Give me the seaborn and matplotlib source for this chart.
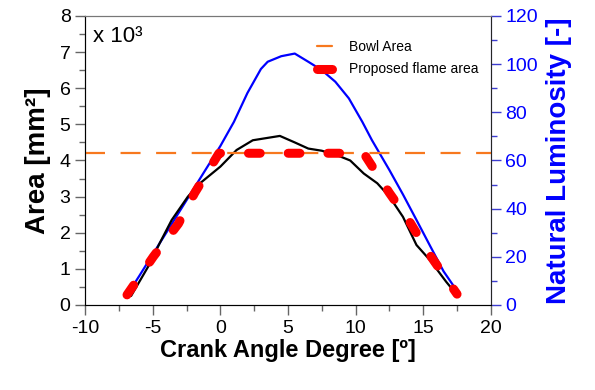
'''
    plot.py
    Area and natural luminosity vs crank angle.
'''
import matplotlib
matplotlib.use('Agg')
import numpy as np
import pandas as pd
import seaborn as sns
import matplotlib.pyplot as plt
from matplotlib.ticker import MultipleLocator

# measured area (x 10^3 mm^2)
area_cad = [-6.6, -5.2, -4.5, -3.6, -2.4, -1.5, 0.0, 1.2, 2.4, 4.4, 5.5, 6.5,
            7.5, 8.8, 9.6, 10.6, 11.6, 12.5, 13.5, 14.5, 15.5, 16.7, 17.6]
area_val = [0.25, 1.15, 1.7, 2.35, 3.0, 3.37, 3.83, 4.29, 4.56, 4.68, 4.5, 4.33,
            4.27, 4.12, 4.0, 3.64, 3.37, 3.0, 2.44, 1.66, 1.24, 0.64, 0.23]

# natural luminosity [-]
lum_cad = [-6.8, -6, -5, -4, -3, -2, -1, 0, 1, 2, 3, 3.5, 4.5, 5.5, 6.5, 7.5,
           8.5, 9.5, 10.5, 11.2, 12.5, 13.5, 14.5, 15.5, 16.5, 17.6]
lum_val = [5, 12, 21, 30, 39, 48, 57, 66, 76, 88, 98, 101, 103.3, 104.4, 101,
           97.5, 92.7, 85.8, 76, 68.5, 56, 45.9, 35.3, 24.6, 14, 5]

# proposed flame area
flame_cad = [-6.9, -4.95, -3.1, -1.9, -0.1, 10.6, 12.5, 14.0, 15.5, 17.5]
flame_val = [0.28, 1.34, 2.25, 3.1, 4.2, 4.2, 3.1, 2.3, 1.38, 0.3]

bowl_area = 4.2
bowl_cad = [-10, 20]

BLUE = '#0000ff'
SPINE_BLUE = '#3c3cd0'
TICK_GRAY = '#666666'


def main(out_path='out.png'):
    sns.set_style('ticks')
    plt.rcParams['font.family'] = ['Liberation Sans', 'DejaVu Sans']
    plt.rcParams['axes.unicode_minus'] = False
    plt.rcParams['text.color'] = 'black'
    plt.rcParams['axes.labelcolor'] = 'black'
    plt.rcParams['xtick.labelcolor'] = 'black'
    plt.rcParams['ytick.labelcolor'] = 'black'

    fig = plt.figure(figsize=(5.95, 3.9), dpi=100)
    ax = fig.add_axes([0.143, 0.218, 0.682, 0.741])

    df_area = pd.DataFrame({'cad': area_cad, 'area': area_val})
    sns.lineplot(data=df_area, x='cad', y='area', color='black', lw=1.6,
                 ax=ax, legend=False)
    sns.lineplot(x=bowl_cad, y=[bowl_area] * 2, color='#f7781e', lw=1.6,
                 ax=ax, label='Bowl Area')
    ax.lines[-1].set_dashes((9, 7))
    sns.lineplot(x=flame_cad, y=flame_val, color='#ff0000', lw=6.5, ax=ax,
                 label='Proposed flame area')
    ln = ax.lines[-1]
    ln.set_dashes((1.3, 3.1))
    ln.set_dash_capstyle('round')

    ax.set_xlim(-10, 20)
    ax.set_ylim(0, 8)
    ax.xaxis.set_major_locator(MultipleLocator(5))
    ax.xaxis.set_minor_locator(MultipleLocator(2.5))
    ax.yaxis.set_major_locator(MultipleLocator(1))
    ax.yaxis.set_minor_locator(MultipleLocator(0.5))
    ax.tick_params(which='both', direction='out', color=TICK_GRAY,
                   labelsize=14, width=1, labelcolor='black')
    ax.tick_params(which='major', length=7)
    ax.tick_params(which='minor', length=4)
    ax.set_xlabel('Crank Angle Degree [º]', fontsize=17, fontweight='bold',
                  labelpad=2)
    ax.set_ylabel('Area [mm²]', fontsize=20, fontweight='bold', labelpad=6)
    ax.spines['top'].set_color('#777777')
    ax.spines['left'].set_color('black')
    ax.spines['bottom'].set_color('black')
    ax.text(0.02, 0.93, 'x 10³', transform=ax.transAxes, fontsize=16,
            va='center', ha='left')

    leg = ax.legend(loc='upper right', bbox_to_anchor=(1.0, 0.96),
                    frameon=False, fontsize=10, handlelength=1.1,
                    handletextpad=1.2, labelspacing=0.6)
    for h in leg.get_lines():
        h.set_linestyle('-')
    leg.get_lines()[0].set_linewidth(1.6)
    leg.get_lines()[1].set_linewidth(6.5)
    leg.get_lines()[1].set_solid_capstyle('round')

    ax2 = ax.twinx()
    sns.lineplot(x=lum_cad, y=lum_val, color=BLUE, lw=1.6, ax=ax2)
    ax2.set_ylim(0, 120)
    ax2.yaxis.set_major_locator(MultipleLocator(20))
    ax2.yaxis.set_minor_locator(MultipleLocator(10))
    ax2.tick_params(which='both', direction='out', color=SPINE_BLUE,
                    labelcolor=BLUE, labelsize=14, width=1)
    ax2.tick_params(which='major', length=7)
    ax2.tick_params(which='minor', length=4)
    ax2.spines['right'].set_color(SPINE_BLUE)
    ax2.spines['top'].set_color('#777777')
    ax2.set_ylabel('Natural Luminosity [-]', fontsize=20, fontweight='bold',
                   color=BLUE, labelpad=6)

    # black line drawn above the blue one as in the original
    ax.set_zorder(ax2.get_zorder() + 1)
    ax.patch.set_visible(False)

    fig.savefig(out_path, dpi=100)


if __name__ == '__main__':
    main()
